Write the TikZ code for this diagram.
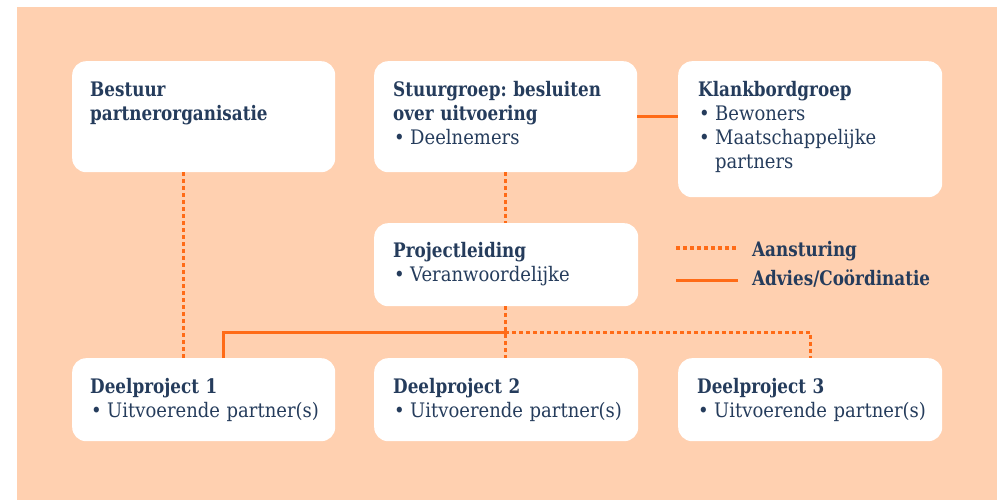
\documentclass[tikz,border=0pt]{standalone}
\usepackage{fontspec}
\setmainfont{DejaVu Serif}[FakeStretch=0.9, BoldFont={DejaVu Serif Bold}, BoldFeatures={FakeStretch=0.84}]
\frenchspacing
\usetikzlibrary{calc}
\definecolor{peach}{RGB}{255,208,176}
\definecolor{orng}{RGB}{255,107,23}
\definecolor{navy}{RGB}{37,60,92}
\newcommand\bul{\makebox[17pt][l]{\hspace{1pt}•}}
\begin{document}
\begin{tikzpicture}[x=1pt,y=-1pt,
  box/.style={fill=white, rounded corners=14pt, inner sep=0pt, anchor=north west},
  txt/.style={text=navy, align=left, text width=240pt, anchor=base west, inner sep=0pt, font=\fontsize{20}{24}\selectfont},
  aan/.style={draw=orng, line width=3pt, dash pattern=on 4pt off 3pt},
  adv/.style={draw=orng, line width=3pt}]
\useasboundingbox (0,0) rectangle (997,500);
\fill[peach] (17,7) rectangle (997,500);
% boxes
\node[box, minimum width=263pt, minimum height=111pt] (bestuur) at (72,61) {};
\node[box, minimum width=263pt, minimum height=111pt] (stuur) at (374,61) {};
\node[box, minimum width=264pt, minimum height=136pt] (klank) at (678,61) {};
\node[box, minimum width=264pt, minimum height=83pt] (proj) at (374,223) {};
\node[box, minimum width=263pt, minimum height=83pt] (dp1) at (72,358) {};
\node[box, minimum width=264pt, minimum height=83pt] (dp2) at (374,358) {};
\node[box, minimum width=264pt, minimum height=83pt] (dp3) at (678,358) {};
% texts
\node[txt] (tbestuur) at ($(bestuur.north west)+(18,36)$) {\textbf{Bestuur}\\\textbf{partnerorganisatie}};
\node[txt] (tstuur) at ($(stuur.north west)+(19,36)$) {\textbf{Stuurgroep: besluiten}\\\textbf{over uitvoering}\\\bul Deelnemers};
\node[txt] (tklank) at ($(klank.north west)+(20,36)$) {\textbf{Klankbordgroep}\\\bul Bewoners\\\bul Maatschappelijke\\\hspace*{17pt}partners};
\node[txt] (tproj) at ($(proj.north west)+(19,35)$) {\textbf{Projectleiding}\\\bul Veranwoordelijke};
\node[txt] (tdp1) at ($(dp1.north west)+(18,35)$) {\textbf{Deelproject 1}\\\bul Uitvoerende partner(s)};
\node[txt] (tdp2) at ($(dp2.north west)+(19,35)$) {\textbf{Deelproject 2}\\\bul Uitvoerende partner(s)};
\node[txt] (tdp3) at ($(dp3.north west)+(19,35)$) {\textbf{Deelproject 3}\\\bul Uitvoerende partner(s)};
% connectors
\coordinate (c1) at (183,0);
\coordinate (s1) at (223,0);
\coordinate (j) at (505,332);
\draw[aan] (bestuur.south -| c1) -- (dp1.north -| c1);
\draw[aan] (stuur.south -| j) -- (proj.north -| j);
\draw[aan] (proj.south -| j) -- (dp2.north -| j);
\draw[adv] (dp1.north -| s1) |- (j);
\draw[aan] (j) -| (dp3.north);
\draw[adv] (stuur.east) -- (stuur.east -| klank.west);
% legend
\coordinate (l1a) at (676,248);
\coordinate (l1b) at (738,248);
\coordinate (l2a) at (676,280);
\coordinate (l2b) at (738,280);
\draw[aan] (l1a) -- (l1b);
\draw[adv] (l2a) -- (l2b);
\node[txt] (leg1) at (752,256) {\textbf{Aansturing}};
\node[txt] (leg2) at (752,285) {\textbf{Advies/Coördinatie}};
\end{tikzpicture}
\end{document}
